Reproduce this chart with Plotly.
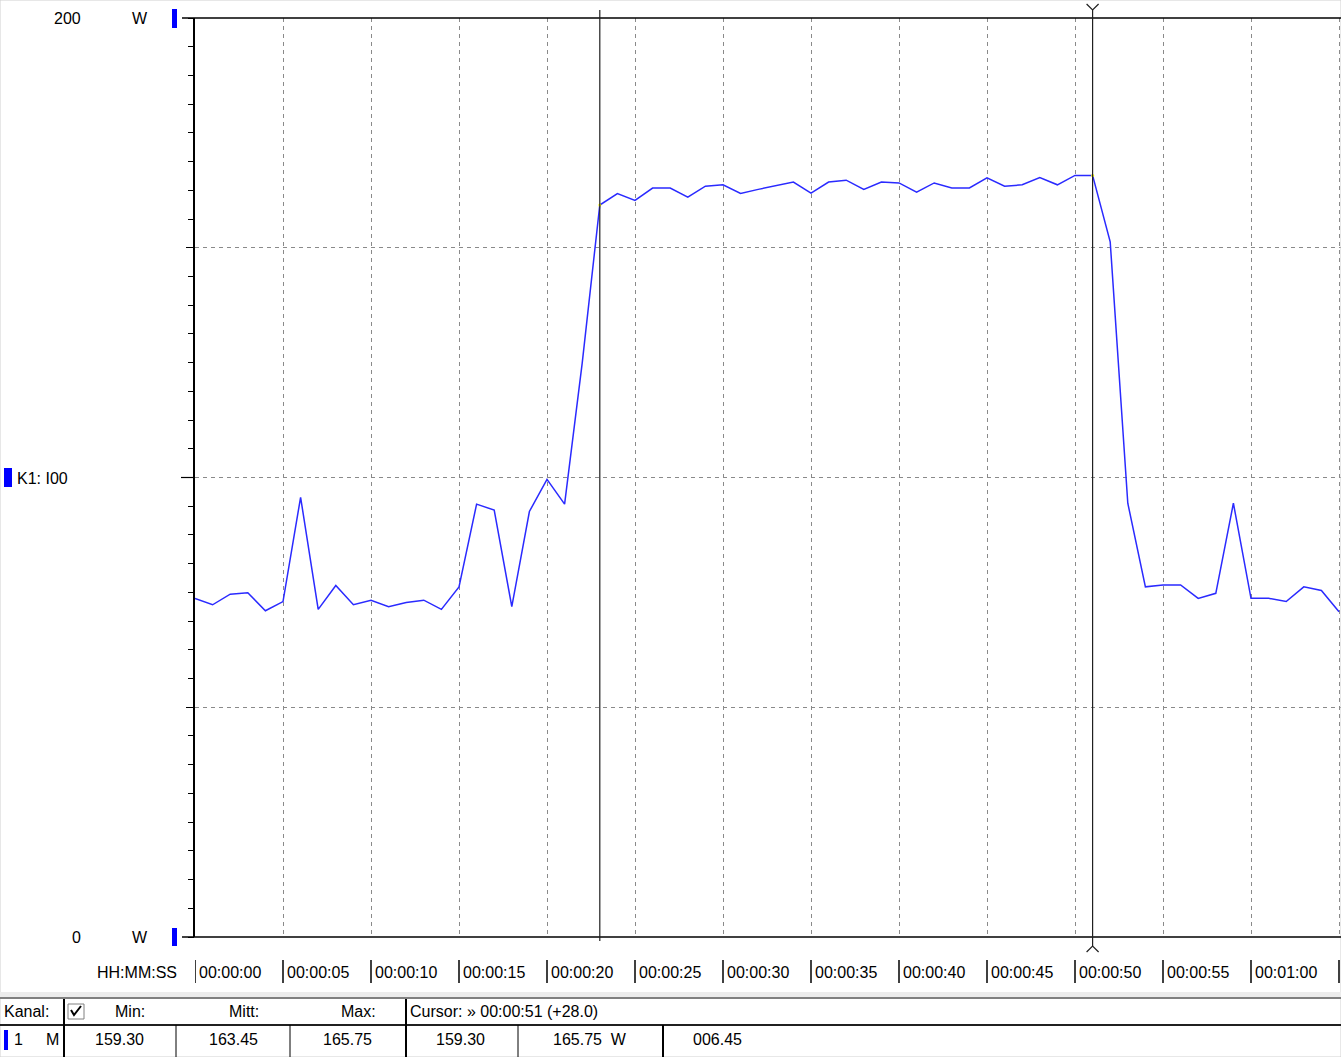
import plotly.graph_objects as go

# ---------------- data ----------------
time_s = list(range(66))  # one sample per second
power_w = [73.7, 72.3, 74.6, 74.9, 71.0, 73.0, 95.7, 71.3, 76.5, 72.3,
           73.3, 71.9, 72.8, 73.3, 71.3, 76.2, 94.2, 92.9, 71.9, 92.6,
           99.6, 94.2, 124.9, 159.3, 161.8, 160.3, 163.0, 163.0, 161.0, 163.4,
           163.7, 161.8, 162.7, 163.5, 164.3, 161.9, 164.3, 164.7, 162.7, 164.3,
           164.1, 162.1, 164.1, 163.0, 163.0, 165.2, 163.4, 163.7, 165.3, 163.7,
           165.75, 165.75, 151.3, 94.4, 76.2, 76.6, 76.6, 73.7, 74.8, 94.4,
           73.7, 73.7, 73.0, 76.2, 75.4, 70.8]
cursor_times = [23, 51]
x_tick_vals = [0, 5, 10, 15, 20, 25, 30, 35, 40, 45, 50, 55, 60, 65]
x_tick_labels = ["00:00:00", "00:00:05", "00:00:10", "00:00:15", "00:00:20",
                 "00:00:25", "00:00:30", "00:00:35", "00:00:40", "00:00:45",
                 "00:00:50", "00:00:55", "00:01:00", ""]
y_grid_vals = [50, 100, 150]
y_minor_step = 6.25
y_range = [0, 200]
stat_headers = ["Min:", "Mitt:", "Max:"]
stat_values = ["159.30", "163.45", "165.75"]
cursor_values = ["159.30", "165.75  W", "006.45"]

# ---------------- layout geometry ----------------
W, H = 1341, 1057
L, T, R, B = 195, 18, 0, 120
PW = W - L - R
PH = H - T - B
BOT = H - B
FONT = "Liberation Sans"


def px(x):
    return (x - L) / PW


def py(y):
    return (BOT - y) / PH


fig = go.Figure()

fig.add_trace(go.Scatter(
    x=time_s, y=power_w, mode="lines",
    line=dict(color="#2a2aff", width=1.5), hoverinfo="skip", showlegend=False))

# yellow dots where cursors cut the curve
fig.add_trace(go.Scatter(
    x=cursor_times, y=[power_w[c] for c in cursor_times], mode="markers",
    marker=dict(color="#ffff00", size=3), hoverinfo="skip", showlegend=False))

# invisible trace on the second y axis (carries the fine ticks)
fig.add_trace(go.Scatter(x=[None], y=[None], yaxis="y2", showlegend=False,
                         hoverinfo="skip"))

shapes = []
annotations = []


def line(x0, y0, x1, y1, color="black", width=1, **kw):
    shapes.append(dict(type="line", xref="paper", yref="paper",
                       x0=px(x0), y0=py(y0), x1=px(x1), y1=py(y1),
                       line=dict(color=color, width=width), **kw))


def rect(x0, y0, x1, y1, fill, color=None, width=0):
    shapes.append(dict(type="rect", xref="paper", yref="paper",
                       x0=px(x0), y0=py(y0), x1=px(x1), y1=py(y1),
                       fillcolor=fill, line=dict(color=color or fill, width=width)))


def text(s, x, y, anchor="left", size=16, color="black"):
    annotations.append(dict(text=s, xref="paper", yref="paper", x=px(x), y=py(y),
                            xanchor=anchor, yanchor="middle", showarrow=False,
                            font=dict(family=FONT, size=size, color=color),
                            borderpad=0))


# outer frame
rect(0, 0, W, H, "rgba(0,0,0,0)", "#d0d0d0", 1)

# plot frame lines
line(182, 18, W, 18, width=1.5)
line(182, 937, W, 937, width=1.5)
line(194, 18, 194, 937, width=2)

# longer tick at 100
shapes.append(dict(type="line", xref="paper", yref="y", x0=px(181), x1=px(194),
                   y0=100, y1=100, line=dict(color="black", width=1.2)))

# cursor lines
c1, c2 = cursor_times
shapes.append(dict(type="line", xref="x", yref="paper", x0=c1, x1=c1,
                   y0=py(10), y1=py(941), line=dict(color="#202020", width=1.2)))
shapes.append(dict(type="line", xref="x", yref="paper", x0=c2, x1=c2,
                   y0=py(10), y1=py(946), line=dict(color="#202020", width=1.2)))
shapes.append(dict(type="path", xref="x", yref="paper", xsizemode="pixel", xanchor=c2,
                   path=f"M -6,{py(4)} L 0,{py(10)} L 6,{py(4)}",
                   line=dict(color="#202020", width=1.2)))
shapes.append(dict(type="path", xref="x", yref="paper", xsizemode="pixel", xanchor=c2,
                   path=f"M -6,{py(952)} L 0,{py(946)} L 6,{py(952)}",
                   line=dict(color="#202020", width=1.2)))

# blue channel markers
rect(172, 9, 177, 28, "#0000ff")
rect(172, 928, 177, 946, "#0000ff")
rect(4, 468, 12, 487, "#0000ff")

# y labels
text(str(y_range[1]), 82, 19, "right")
text("W", 140, 19, "center")
text(str(y_range[0]), 82, 937, "right")
text("W", 140, 937, "center")
text("K1: I00", 16, 478, "left")

# x tick labels with bars
text("HH:MM:SS", 178, 972, "right")
for v, lab in zip(x_tick_vals, x_tick_labels):
    shapes.append(dict(type="line", xref="x", yref="paper", x0=v, x1=v,
                       y0=py(960), y1=py(983), line=dict(color="black", width=1.5)))
    if lab:
        annotations.append(dict(text=lab, xref="x", yref="paper", x=v, y=py(972),
                                xanchor="left", yanchor="middle", xshift=3,
                                showarrow=False, borderpad=0,
                                font=dict(family=FONT, size=16, color="black")))

# ---------------- bottom table ----------------
rect(0, 992, W, 997, "#ececec")
line(0, 998, W, 998, color="#808080", width=2)
line(0, 1025, W, 1025, color="#202020", width=2)
line(64, 999, 64, H, width=2)
line(406, 999, 406, H, width=2)
for xv in (176, 290, 518):
    line(xv, 1025, xv, H, width=1)
line(663, 1025, 663, H, width=2)

# checkbox
rect(68, 1004, 84, 1019, "white", "#808080", 1)
shapes.append(dict(type="path", xref="paper", yref="paper",
                   path=f"M {px(71)},{py(1010)} L {px(74)},{py(1015)} L {px(81)},{py(1006)}",
                   line=dict(color="black", width=2)))

text("Kanal:", 3, 1012, "left")
for hdr, cx in zip(stat_headers, (130, 244, 358)):
    text(hdr, cx, 1012, "center")
text(f"Cursor: \u00bb 00:00:{c2:02d} (+{c2 - c1:.1f})", 409, 1012, "left")

rect(4, 1030, 8, 1050, "#0000ff")
text("1", 13, 1039, "left")
text("M", 60, 1039, "right")
for val, cx in zip(stat_values, (119, 233, 347)):
    text(val, cx, 1039, "center")
for val, cx in zip(cursor_values, (460, 590, 717)):
    text(val, cx, 1039, "center")

grid_color = "#8a8a8a"
fig.update_layout(
    width=W, height=H, autosize=False,
    margin=dict(l=L, r=R, t=T, b=B, pad=0),
    paper_bgcolor="white", plot_bgcolor="white",
    font=dict(family=FONT, size=16, color="black"),
    showlegend=False,
    shapes=shapes, annotations=annotations,
    xaxis=dict(range=[0, PW / 17.6], tickvals=x_tick_vals, showticklabels=False,
               ticks="", showgrid=True, gridcolor=grid_color, griddash="4px,4px",
               gridwidth=1, zeroline=False, showline=False, fixedrange=True),
    yaxis=dict(range=y_range, tickvals=y_grid_vals, showticklabels=False,
               ticks="outside", ticklen=8, tickcolor="black", tickwidth=1.2,
               showgrid=True, gridcolor=grid_color, griddash="4px,4px", gridwidth=1,
               zeroline=False, showline=False, fixedrange=True),
    yaxis2=dict(range=y_range, overlaying="y", side="left", tickmode="linear",
                tick0=0, dtick=y_minor_step, showticklabels=False,
                ticks="outside", ticklen=6, tickcolor="black", tickwidth=1.2,
                showgrid=False, zeroline=False, showline=False, fixedrange=True),
)

fig.write_html("out.html", config={"displayModeBar": False},
               post_script="document.body.style.margin='0';")
